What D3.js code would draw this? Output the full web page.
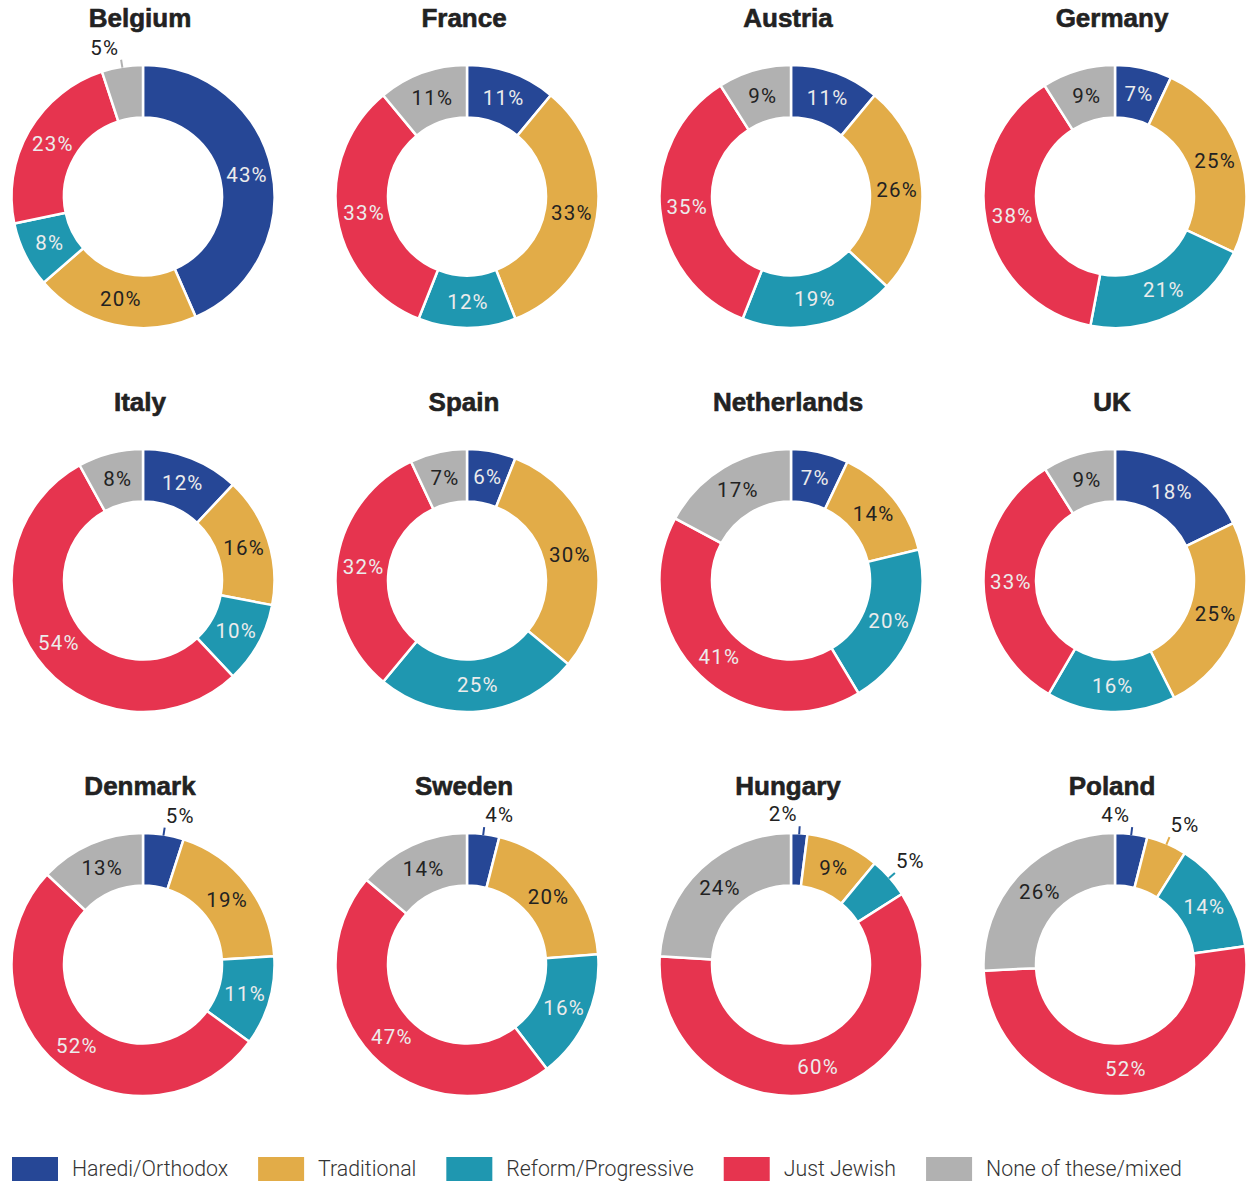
<!DOCTYPE html>
<meta charset="utf-8">
<style>
body { margin: 0; background: #fff; }
.title { font: bold 26px "Liberation Sans", Arial, sans-serif; fill: #222; stroke: #222; stroke-width: 0.6px; text-anchor: middle; }
.lbl { font: 20.5px Roboto, sans-serif; letter-spacing: 1.2px; }
.legend text { font: 300 21.3px Roboto, sans-serif; fill: #333; }
</style>
<body>
<script src="https://cdn.jsdelivr.net/npm/d3@7"></script>
<script>
// data: share of each group per country (%)
var countries   = ["Belgium", "France", "Austria", "Germany",
                   "Italy", "Spain", "Netherlands", "UK",
                   "Denmark", "Sweden", "Hungary", "Poland"];
var categories  = ["Haredi/Orthodox", "Traditional", "Reform/Progressive", "Just Jewish", "None of these/mixed"];
var haredi      = [43, 11, 11,  7, 12,  6,  7, 18,  5,  4,  2,  4];
var traditional = [20, 33, 26, 25, 16, 30, 14, 25, 19, 20,  9,  5];
var reform      = [ 8, 12, 19, 21, 10, 25, 20, 16, 11, 16,  5, 14];
var justJewish  = [23, 33, 35, 38, 54, 32, 41, 33, 52, 47, 60, 52];
var noneMixed   = [ 5, 11,  9,  9,  8,  7, 17,  9, 13, 14, 24, 26];

var series = [haredi, traditional, reform, justJewish, noneMixed];

var width = 1249, height = 1185;
var outerR = 131.5, innerR = 79;

var color = d3.scaleOrdinal()
    .domain(categories)
    .range(["#264796", "#e2ac48", "#1f97b0", "#e6344f", "#b1b1b1"]);
// label colour inside the ring
var inkOn = d3.scaleOrdinal()
    .domain(categories)
    .range(["#ececec", "#222", "#ececec", "#ececec", "#222"]);

// grid positions
var colX = d3.scalePoint().domain([0, 1, 2, 3]).range([143, 1115]);
var rowY = d3.scalePoint().domain([0, 1, 2]).range([196.5, 964.5]);

var svg = d3.select("body").append("svg")
    .attr("width", width)
    .attr("height", height);

var pie = d3.pie().sort(null).value(function(d) { return d.value; });
var arc = d3.arc().innerRadius(innerR).outerRadius(outerR);

countries.forEach(function(country, i) {
  var rows = categories.map(function(c, k) { return {cat: c, value: series[k][i]}; });
  var arcs = pie(rows);

  var g = svg.append("g")
      .attr("transform", "translate(" + colX(i % 4) + "," + rowY(Math.floor(i / 4)) + ")");

  g.append("text")
      .attr("class", "title")
      .attr("x", -3)
      .attr("y", -170)
      .text(country);

  g.selectAll("path")
      .data(arcs)
    .enter().append("path")
      .attr("d", arc)
      .attr("fill", function(d) { return color(d.data.cat); })
      .attr("stroke", "#fff")
      .attr("stroke-width", 2.5);

  arcs.forEach(function(d, k) {
    var txt = d.data.value + "%";
    if (d.data.value >= 6) {
      var c = arc.centroid(d);
      var light = inkOn(d.data.cat) != "#222";
      g.append("text")
          .attr("class", "lbl")
          .attr("x", c[0] + 1)
          .attr("y", c[1])
          .attr("dy", "0.35em")
          .attr("text-anchor", "middle")
          .attr("font-weight", light ? 300 : 400)
          .attr("fill", inkOn(d.data.cat))
          .text(txt);
    } else {
      // small slice: leader line + label outside
      var a = (d.startAngle + d.endAngle) / 2;
      var p0 = [Math.sin(a) * (outerR - 1), -Math.cos(a) * (outerR - 1)];
      var p1 = [Math.sin(a) * (outerR + 7), -Math.cos(a) * (outerR + 7)];
      var next = arcs[k + 1];
      var toLeft = a > Math.PI || a < 5 * Math.PI / 180 ||
                   (next && next.data.value < 6);
      g.append("line")
          .attr("x1", p0[0]).attr("y1", p0[1])
          .attr("x2", p1[0]).attr("y2", p1[1])
          .attr("stroke", color(d.data.cat))
          .attr("stroke-width", 2);
      g.append("text")
          .attr("class", "lbl")
          .attr("x", p1[0] + (toLeft ? -2 : 1))
          .attr("y", p1[1] - 5)
          .attr("text-anchor", toLeft ? "end" : "start")
          .attr("fill", "#222")
          .text(txt);
    }
  });
});

// legend
var legend = svg.append("g").attr("class", "legend");
var lx = 12;
categories.forEach(function(c) {
  var item = legend.append("g").attr("transform", "translate(" + lx + ",1157)");
  item.append("rect")
      .attr("width", 46)
      .attr("height", 24)
      .attr("fill", color(c));
  var t = item.append("text")
      .attr("x", 60)
      .attr("y", 12)
      .attr("dy", "0.35em")
      .text(c);
  lx += 60 + t.node().getComputedTextLength() + 30;
});
</script>
</body>
